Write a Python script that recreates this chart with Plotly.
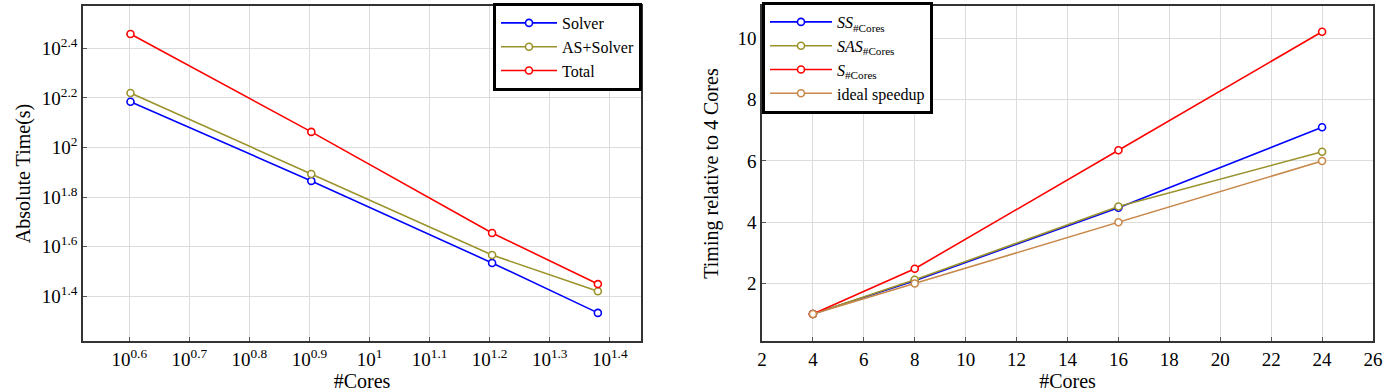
import plotly.graph_objects as go

# ---------------- data ----------------
cores = [4, 8, 16, 24]

# left panel: absolute time in seconds (log-log)
solver_time = [153.0, 73.3, 34.2, 21.5]
as_solver_time = [166.0, 78.2, 36.8, 26.3]
total_time = [287.0, 115.6, 45.2, 28.1]

# right panel: timing relative to 4 cores
ss_speedup = [1.0, 2.09, 4.47, 7.1]
sas_speedup = [1.0, 2.12, 4.51, 6.3]
s_speedup = [1.0, 2.48, 6.35, 10.22]
ideal_speedup = [1.0, 2.0, 4.0, 6.0]

left_names = ["Solver", "AS+Solver", "Total"]
right_names = ["<i>SS</i><sub>#Cores</sub>", "<i>SAS</i><sub>#Cores</sub>",
               "<i>S</i><sub>#Cores</sub>", "ideal speedup"]

x_log_ticks = [0.6, 0.7, 0.8, 0.9, 1.0, 1.1, 1.2, 1.3, 1.4]
y_log_ticks = [1.4, 1.6, 1.8, 2.0, 2.2, 2.4]
x_lin_ticks = [2, 4, 6, 8, 10, 12, 14, 16, 18, 20, 22, 24, 26]
y_lin_ticks = [2, 4, 6, 8, 10]

BLUE = "#0000ff"
OLIVE = "#9a922a"
RED = "#ff0000"
BROWN = "#c8884a"

FONT = "Liberation Serif"
FS = 19
TFS = 20
LFS = 16


def fmt_exp(v):
    s = ("%g" % v)
    return "10<sup>%s</sup>" % s


fig = go.Figure()


def add(x, y, name, color, xa, ya, legend):
    fig.add_trace(go.Scatter(
        x=x, y=y, name=name, mode="lines+markers",
        line=dict(color=color, width=1.6),
        marker=dict(symbol="circle", size=7, color="white",
                    line=dict(color=color, width=1.6)),
        xaxis=xa, yaxis=ya, legend=legend,
    ))


add(cores, solver_time, left_names[0], BLUE, "x", "y", "legend")
add(cores, as_solver_time, left_names[1], OLIVE, "x", "y", "legend")
add(cores, total_time, left_names[2], RED, "x", "y", "legend")

add(cores, ss_speedup, right_names[0], BLUE, "x2", "y2", "legend2")
add(cores, sas_speedup, right_names[1], OLIVE, "x2", "y2", "legend2")
add(cores, s_speedup, right_names[2], RED, "x2", "y2", "legend2")
add(cores, ideal_speedup, right_names[3], BROWN, "x2", "y2", "legend2")

W, H = 1392, 392
ydom = [(H - 341) / H, (H - 6) / H]

axis_common = dict(
    showline=True, linecolor="#333333", linewidth=1.5, mirror=True,
    ticks="inside", ticklen=4, tickcolor="#555555", tickwidth=1,
    showgrid=True, gridcolor="#dcdcdc", gridwidth=1,
    zeroline=False, automargin=False,
    tickfont=dict(family=FONT, size=FS, color="black"),
)

fig.update_layout(
    width=W, height=H,
    margin=dict(l=0, r=0, t=0, b=0),
    paper_bgcolor="white", plot_bgcolor="white",
    font=dict(family=FONT, size=FS, color="black"),
    xaxis=dict(
        axis_common, type="log", domain=[83 / W, 641 / W],
        range=[0.523, 1.452], anchor="y",
        tickvals=[10 ** v for v in x_log_ticks],
        ticktext=[fmt_exp(v) for v in x_log_ticks],
        title=dict(text="#Cores", standoff=3,
                   font=dict(family=FONT, size=TFS)),
    ),
    yaxis=dict(
        axis_common, type="log", domain=ydom,
        range=[1.219, 2.571], anchor="x",
        tickvals=[10 ** v for v in y_log_ticks],
        ticktext=[fmt_exp(v) for v in y_log_ticks],
        title=dict(text="Absolute Time(s)", standoff=6,
                   font=dict(family=FONT, size=TFS)),
    ),
    xaxis2=dict(
        axis_common, domain=[762 / W, 1373 / W],
        range=[2, 26], anchor="y2",
        tickvals=x_lin_ticks, ticktext=[str(v) for v in x_lin_ticks],
        title=dict(text="#Cores", standoff=3,
                   font=dict(family=FONT, size=TFS)),
    ),
    yaxis2=dict(
        axis_common, domain=ydom,
        range=[0.12, 11.06], anchor="x2",
        tickvals=y_lin_ticks, ticktext=[str(v) for v in y_lin_ticks],
        title=dict(text="Timing relative to 4 Cores", standoff=13,
                   font=dict(family=FONT, size=TFS)),
    ),
    legend=dict(
        x=642 / W, y=1 - 3 / H, xanchor="right", yanchor="top",
        bgcolor="white", bordercolor="black", borderwidth=3,
        font=dict(family=FONT, size=LFS), tracegroupgap=0,
        itemwidth=56,
    ),
    legend2=dict(
        x=762 / W, y=1 - 2 / H, xanchor="left", yanchor="top",
        bgcolor="white", bordercolor="black", borderwidth=3,
        font=dict(family=FONT, size=LFS), tracegroupgap=0,
        itemwidth=62,
    ),
    showlegend=True,
)

fig.write_html("out.html")
